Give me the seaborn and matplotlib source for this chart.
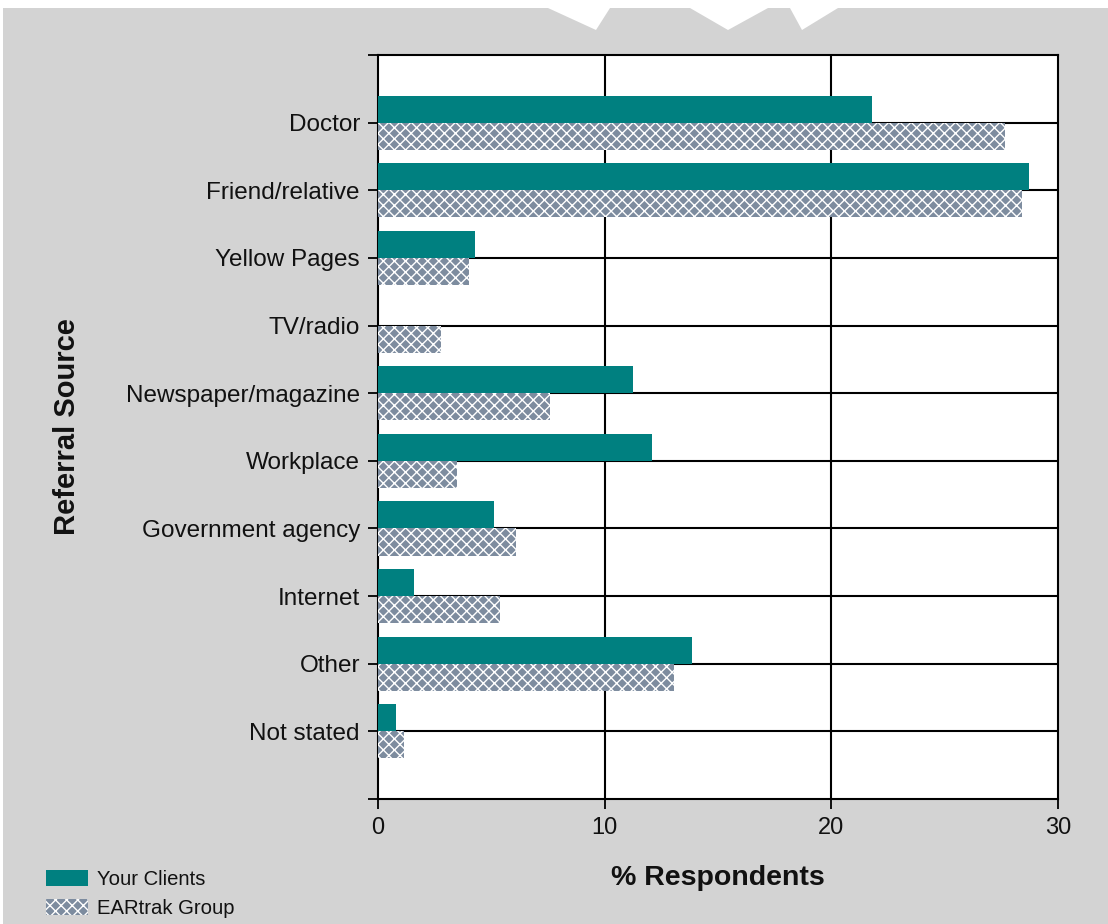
import numpy as np
import pandas as pd
import seaborn as sns
import matplotlib.pyplot as plt
from matplotlib.patches import Patch, Polygon, Rectangle

# Referral sources and percentage of respondents for each group
categories = ["Doctor", "Friend/relative", "Yellow Pages", "TV/radio",
              "Newspaper/magazine", "Workplace", "Government agency",
              "Internet", "Other", "Not stated"]
your_clients = [21.8, 28.7, 4.3, 0.0, 11.25, 12.1, 5.1, 1.6, 13.85, 0.8]
eartrak_group = [27.65, 28.4, 4.0, 2.8, 7.6, 3.5, 6.1, 5.4, 13.05, 1.15]
series = ["Your Clients", "EARtrak Group"]
x_ticks = [0, 10, 20, 30]

df = pd.DataFrame({
    "Source": categories * 2,
    "Percent": your_clients + eartrak_group,
    "Group": [series[0]] * len(categories) + [series[1]] * len(categories),
})

sns.set_theme(style="white")
plt.rcParams["font.family"] = ["Liberation Sans", "DejaVu Sans"]
plt.rcParams["hatch.linewidth"] = 1.0

BG = "#d3d3d3"
TEAL = "#008080"
SLATE = "#7d8c9f"
INK = "#111111"

W, H = 1108, 924
fig = plt.figure(figsize=(W / 100, H / 100), dpi=100, facecolor=BG)

# White margin strips and watermark shapes along the top edge
fig.patches.append(Rectangle((0, 1 - 8 / H), 1, 8 / H, transform=fig.transFigure,
                             facecolor="white", edgecolor="none", zorder=0))
fig.patches.append(Rectangle((0, 0), 3 / W, 1, transform=fig.transFigure,
                             facecolor="white", edgecolor="none", zorder=0))
for pts in ([(548, 8), (610, 8), (596, 30)],
            [(690, 8), (768, 8), (728, 30)],
            [(790, 8), (838, 8), (802, 30)]):
    fig.patches.append(Polygon([(x / W, 1 - y / H) for x, y in pts], closed=True,
                               transform=fig.transFigure, facecolor="white",
                               edgecolor="none", zorder=0))

ax = fig.add_axes([378 / W, 1 - 799 / H, 680 / W, 744 / H])
ax.set_facecolor("white")

sns.barplot(data=df, y="Source", x="Percent", hue="Group", orient="h",
            order=categories, hue_order=series, palette=[TEAL, SLATE],
            width=0.8, ax=ax, legend=False, zorder=3, linewidth=0,
            saturation=1)

for bar in ax.containers[1]:
    bar.set_hatch("xxx")
    bar.set_edgecolor("white")
    bar.set_linewidth(0)

ax.set_xlim(0, 30)
ax.set_ylim(10, -1)
ax.set_xticks(x_ticks)
ax.set_xticklabels([str(t) for t in x_ticks])
ax.set_yticks(list(range(-1, 11)))
ax.set_yticklabels([""] + categories + [""])

ax.set_axisbelow(True)
for y in range(len(categories)):
    ax.axhline(y, color="black", lw=1.5, zorder=1)
for x in x_ticks[1:-1]:
    ax.axvline(x, color="black", lw=1.5, zorder=1)

for side in ("left", "right", "top", "bottom"):
    ax.spines[side].set_visible(True)
    ax.spines[side].set_color("black")
    ax.spines[side].set_linewidth(1.5)

ax.tick_params(axis="both", which="major", direction="out", length=7, width=1.3,
               color="black", labelcolor=INK, labelsize=17.5, pad=6,
               left=True, bottom=True)
ax.tick_params(axis="x", pad=6, labelsize=17)

ax.set_xlabel("% Respondents", fontsize=20.5, fontweight="bold", color=INK, labelpad=19)
ax.set_ylabel("Referral Source", fontsize=21, fontweight="bold", color=INK, labelpad=32)

handles = [Patch(facecolor=TEAL, edgecolor="none", label=series[0]),
           Patch(facecolor=SLATE, edgecolor="white", linewidth=0, hatch="xxx",
                 label=series[1])]
fig.legend(handles=handles, loc="upper left", bbox_to_anchor=(46 / W, 1 - 870 / H),
           frameon=False, fontsize=14.6, handlelength=2.05, handleheight=0.8,
           handletextpad=0.45, labelspacing=0.5, borderpad=0, borderaxespad=0,
           labelcolor=INK)

fig.savefig("out.png", dpi=100, facecolor=BG)
